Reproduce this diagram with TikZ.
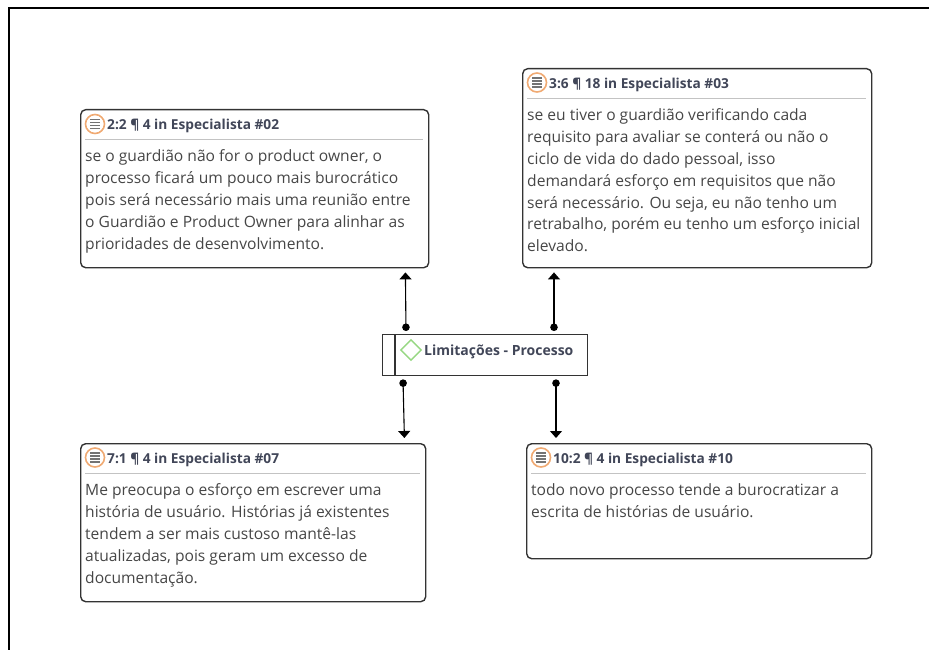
\documentclass[tikz,border=0pt]{standalone}
\usepackage{fontspec}
\setmainfont{Open Sans}
\usetikzlibrary{arrows.meta,calc,shapes.geometric}
\definecolor{headcol}{RGB}{65,70,88}
\definecolor{bodycol}{RGB}{70,70,70}
\definecolor{rulecol}{RGB}{195,195,195}
\definecolor{iconcol}{RGB}{240,170,115}
\definecolor{codecol}{RGB}{150,215,130}
\tikzset{
quotebox/.style={draw=black!80,line width=1.4pt,rounded corners=5pt,inner sep=0pt,anchor=north west},
quotehead/.style={anchor=west,inner sep=0pt,text=headcol,font=\fontsize{13.7}{16}\selectfont\bfseries},
quotebody/.style={anchor=north west,inner sep=0pt,align=left,text=bodycol,font=\fontsize{15.6}{21.9}\selectfont,execute at begin node=\strut},
quoteicon/.style={circle,draw=iconcol,line width=1.6pt,minimum size=19pt,inner sep=0pt},
link/.style={line width=1.1pt,{Circle[length=7.5pt]}-{Triangle[length=7pt,width=12pt]}}
}
\begin{document}
\begin{tikzpicture}[x=1pt,y=-1pt]
\useasboundingbox (0,0) rectangle (929,650);
\draw[line width=1.6pt] (9,650) |- (929,8);

\node[quotebox,minimum width=348pt,minimum height=158pt] (b22) at (80,109) {};
\node[quotebox,minimum width=349pt,minimum height=199pt] (b36) at (522,68) {};
\node[quotebox,minimum width=345pt,minimum height=158pt] (b71) at (80,443) {};
\node[quotebox,minimum width=345pt,minimum height=115pt] (b102) at (526,443) {};

\node[quoteicon] (i22) at (95,124) {};
\node[quoteicon] (i36) at (537,82.5) {};
\node[quoteicon] (i71) at (95,457.5) {};
\node[quoteicon] (i102) at (541,457.5) {};
\foreach \n in {i22,i36,i71,i102}
\foreach \y in {-4.5,-1.5,1.5,4.5}
{
\draw[black!55,line width=1.2pt] ($(\n)+(-5,\y)$) -- ($(\n)+(5,\y)$);
}

\node[quotehead] (h22) at (107,125.5) {2:2 ¶ 4 in Especialista \#02};
\node[quotehead] (h36) at (549,84.5) {3:6 ¶ 18 in Especialista \#03};
\node[quotehead] (h71) at (107,459.5) {7:1 ¶ 4 in Especialista \#07};
\node[quotehead] (h102) at (553,459.5) {10:2 ¶ 4 in Especialista \#10};

\draw[rulecol] (85,139) -- (423,139);
\draw[rulecol] (527,98) -- (866,98);
\draw[rulecol] (85,473) -- (420,473);
\draw[rulecol] (531,473) -- (866,473);

\node[quotebody] (t22) at (85,149.3) {se o guardião não for o product owner, o\\processo ficará um pouco mais burocrático\\pois será necessário mais uma reunião entre\\o Guardião e Product Owner para alinhar as\\prioridades de desenvolvimento.};
\node[quotebody] (t36) at (527,108.3) {se eu tiver o guardião verificando cada\\requisito para avaliar se conterá ou não o\\ciclo de vida do dado pessoal, isso\\demandará esforço em requisitos que não\\será necessário. Ou seja, eu não tenho um\\retrabalho, porém eu tenho um esforço inicial\\elevado.};
\node[quotebody] (t71) at (85,483.3) {Me preocupa o esforço em escrever uma\\história de usuário. Histórias já existentes\\tendem a ser mais custoso mantê-las\\atualizadas, pois geram um excesso de\\documentação.};
\node[quotebody] (t102) at (531,483.3) {todo novo processo tende a burocratizar a\\escrita de histórias de usuário.};

\node[draw=black!80,line width=1.4pt,inner sep=0pt,minimum width=205pt,minimum height=41pt,anchor=north west] (lim) at (382,334) {};
\draw[black!80,line width=1.4pt] (395,334) -- (395,375);
\node[diamond,draw=codecol,line width=1.4pt,minimum size=21pt,inner sep=0pt] (d) at (411,350) {};
\node[anchor=west,inner sep=0pt,text=headcol,font=\fontsize{14}{16}\selectfont\bfseries] (limtext) at (424,351.5) {Limitações - Processo};

\coordinate (c22) at ($(b22.south east)+(-24,4)$);
\coordinate (c36) at ($(b36.south west)+(32,4)$);
\coordinate (c71) at ($(b71.north east)+(-22,-5)$);
\coordinate (c102) at ($(b102.north west)+(30,-5)$);

\draw[link] ($(lim.north west)+(24,-3)$) -- (c22);
\draw[link] ($(lim.north west)+(172,-3)$) -- (c36);
\draw[link] ($(lim.south west)+(21,3)$) -- (c71);
\draw[link] ($(lim.south west)+(174,3)$) -- (c102);
\end{tikzpicture}
\end{document}
